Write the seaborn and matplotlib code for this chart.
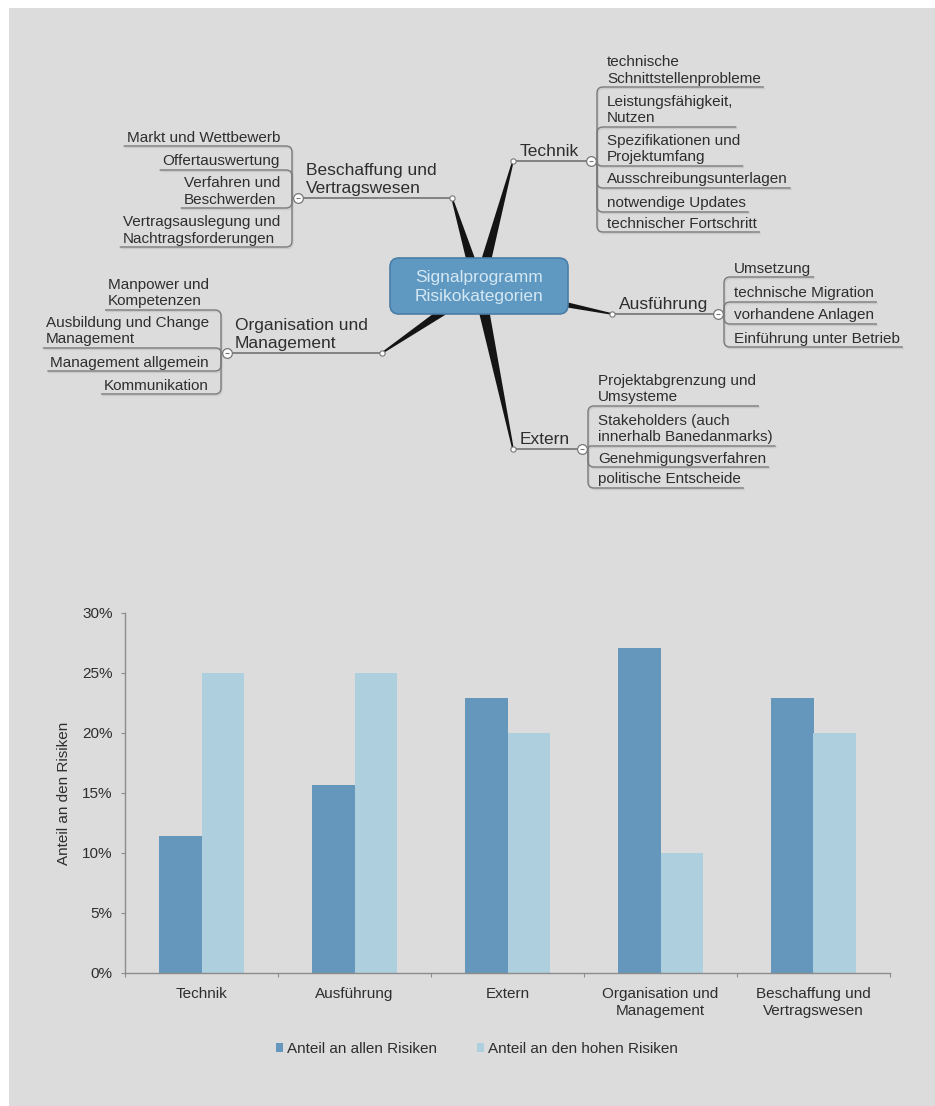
import math

import matplotlib
matplotlib.use("Agg")
import matplotlib.pyplot as plt
import pandas as pd
import seaborn as sns
from matplotlib.patches import FancyBboxPatch, PathPatch, Polygon, Rectangle
from matplotlib.path import Path
from matplotlib.ticker import FixedLocator, PercentFormatter

# --- Daten Balkendiagramm ---
kategorien = ["Technik", "Ausführung", "Extern",
              "Organisation und\nManagement", "Beschaffung und\nVertragswesen"]
anteil_alle = [11.4, 15.7, 22.9, 27.1, 22.9]
anteil_hoch = [25.0, 25.0, 20.0, 10.0, 20.0]
serien = ["Anteil an allen Risiken", "Anteil an den hohen Risiken"]
y_ticks = [0, 5, 10, 15, 20, 25, 30]
y_titel = "Anteil an den Risiken"

# --- Texte Mindmap ---
zentrum_text = "Signalprogramm\nRisikokategorien"
beschaffung_name = "Beschaffung und\nVertragswesen"
beschaffung_punkte = ["Markt und Wettbewerb", "Offertauswertung",
                      "Verfahren und\nBeschwerden",
                      "Vertragsauslegung und\nNachtragsforderungen"]
technik_name = "Technik"
technik_punkte = ["technische\nSchnittstellenprobleme",
                  "Leistungsfähigkeit,\nNutzen",
                  "Spezifikationen und\nProjektumfang",
                  "Ausschreibungsunterlagen", "notwendige Updates",
                  "technischer Fortschritt"]
organisation_name = "Organisation und\nManagement"
organisation_punkte = ["Manpower und\nKompetenzen",
                       "Ausbildung und Change\nManagement",
                       "Management allgemein", "Kommunikation"]
ausfuehrung_name = "Ausführung"
ausfuehrung_punkte = ["Umsetzung", "technische Migration",
                      "vorhandene Anlagen", "Einführung unter Betrieb"]
extern_name = "Extern"
extern_punkte = ["Projektabgrenzung und\nUmsysteme",
                 "Stakeholders (auch\ninnerhalb Banedanmarks)",
                 "Genehmigungsverfahren", "politische Entscheide"]

# Layout in Bildpunkten (Knoten, Klammerkreis, Seite, Hoehe der Unterstreichungen)
zweige = [
    (beschaffung_name, beschaffung_punkte, (452, 198), (298, 198), -1, [146, 170, 208, 247]),
    (technik_name, technik_punkte, (513, 161), (591, 161), 1, [87, 127, 166, 188, 212, 232]),
    (organisation_name, organisation_punkte, (382, 353), (227, 353), -1, [310, 348, 371, 394]),
    (ausfuehrung_name, ausfuehrung_punkte, (612, 314), (718, 314), 1, [277, 302, 324, 347]),
    (extern_name, extern_punkte, (513, 449), (582, 449), 1, [406, 446, 467, 488]),
]
mitte = (479, 287)

W, H = 935, 1106
GRAU = "#dcdcdc"
DUNKEL = "#6497bb"
HELL = "#aed0de"
TEXT = "#2e2e2e"
LINIE = "#7a7a7a"

sns.set_theme(style="white")
plt.rcParams["font.family"] = ["Liberation Sans", "DejaVu Sans"]

fig = plt.figure(figsize=(W / 100, H / 100), dpi=100, facecolor="white")
fig.add_artist(Rectangle((9 / W, 0), 1, (H - 8) / H, transform=fig.transFigure,
                         facecolor=GRAU, edgecolor="none", zorder=-10))

# ---------------- Mindmap ----------------
mm = fig.add_axes([0, 0, 1, 1])
mm.set_xlim(0, W)
mm.set_ylim(H, 0)
mm.set_facecolor("none")
mm.axis("off")
renderer = fig.canvas.get_renderer()


def keil(p_knoten, p_mitte, w_knoten=1.6, w_mitte=12):
    dx, dy = p_mitte[0] - p_knoten[0], p_mitte[1] - p_knoten[1]
    laenge = math.hypot(dx, dy)
    nx, ny = -dy / laenge, dx / laenge
    pts = [(p_knoten[0] + nx * w_knoten / 2, p_knoten[1] + ny * w_knoten / 2),
           (p_mitte[0] + nx * w_mitte / 2, p_mitte[1] + ny * w_mitte / 2),
           (p_mitte[0] - nx * w_mitte / 2, p_mitte[1] - ny * w_mitte / 2),
           (p_knoten[0] - nx * w_knoten / 2, p_knoten[1] - ny * w_knoten / 2)]
    mm.add_patch(Polygon(pts, closed=True, facecolor="#141414", edgecolor="none", zorder=2))


def verbinder(bx, ky, y, x_ende, richtung):
    r = min(6, abs(y - ky))
    s = 1 if y > ky else -1
    verts = [(bx, ky), (bx, y - s * r), (bx, y), (bx + richtung * r, y), (x_ende, y)]
    codes = [Path.MOVETO, Path.LINETO, Path.CURVE3, Path.CURVE3, Path.LINETO]
    # leichter Schatten
    sv = [(vx + 1, vy + 1.5) for vx, vy in verts]
    mm.add_patch(PathPatch(Path(sv, codes), facecolor="none", edgecolor="#c9c9c9", lw=1.0, zorder=2))
    mm.add_patch(PathPatch(Path(verts, codes), facecolor="none", edgecolor=LINIE, lw=1.0, zorder=3))


for name, punkte, knoten, kreis, richtung, linien_y in zweige:
    keil(knoten, mitte)
    mm.plot([knoten[0], kreis[0]], [knoten[1], kreis[1]], color="#6a6a6a", lw=1.1, zorder=3)
    if richtung < 0:
        mm.text(kreis[0] + 8, knoten[1] - 2, name, ha="left", va="bottom",
                fontsize=12.5, color=TEXT, linespacing=1.25, zorder=4)
    else:
        mm.text(knoten[0] + 7, knoten[1] - 2, name, ha="left", va="bottom",
                fontsize=12.5, color=TEXT, linespacing=1.25, zorder=4)
    bx = kreis[0] + richtung * 6
    for punkt, y in zip(punkte, linien_y):
        if richtung < 0:
            t = mm.text(bx - 12, y - 1.5, punkt, ha="right", va="bottom", multialignment="left",
                        fontsize=11, color=TEXT, linespacing=1.2, zorder=4)
        else:
            t = mm.text(bx + 10, y - 1.5, punkt, ha="left", va="bottom", multialignment="left",
                        fontsize=11, color=TEXT, linespacing=1.2, zorder=4)
        bb = t.get_window_extent(renderer).transformed(mm.transData.inverted())
        x_ende = min(bb.x0, bb.x1) - 3 if richtung < 0 else max(bb.x0, bb.x1) + 3
        verbinder(bx, kreis[1], y, x_ende, richtung)
    mm.plot(*knoten, marker="o", markersize=3.8, markerfacecolor="white",
            markeredgecolor="#777777", markeredgewidth=0.8, zorder=5)
    mm.plot(*kreis, marker="o", markersize=7, markerfacecolor="white",
            markeredgecolor="#777777", markeredgewidth=0.9, zorder=5)
    mm.plot(*kreis, marker="_", markersize=3.5, color="#777777", markeredgewidth=0.8, zorder=6)

mm.add_patch(FancyBboxPatch((390, 258), 178, 56, boxstyle="round,pad=0,rounding_size=9",
                            facecolor="#5f98c1", edgecolor="#4a7ea6", lw=1.2, zorder=6))
mm.text(479, 287, zentrum_text, ha="center", va="center", fontsize=12.5,
        color="#d4e8f4", linespacing=1.35, zorder=7)

# ---------------- Balkendiagramm ----------------
df = pd.DataFrame({
    "Kategorie": kategorien * 2,
    "Serie": [serien[0]] * len(kategorien) + [serien[1]] * len(kategorien),
    "Anteil": anteil_alle + anteil_hoch,
})

ax = fig.add_axes([125 / W, (H - 973) / H, 765 / W, 360 / H])
ax.set_facecolor("none")
sns.barplot(data=df, x="Kategorie", y="Anteil", hue="Serie", palette=[DUNKEL, HELL],
            width=0.56, saturation=1, errorbar=None, linewidth=0, ax=ax)

ax.set_xlim(-0.5, len(kategorien) - 0.5)
ax.set_ylim(0, 30)
ax.yaxis.set_major_locator(FixedLocator(y_ticks))
ax.yaxis.set_major_formatter(PercentFormatter(decimals=0))
ax.xaxis.set_minor_locator(FixedLocator([i - 0.5 for i in range(len(kategorien) + 1)]))
ax.set_xlabel("")
ax.set_ylabel(y_titel, fontsize=11, color=TEXT)
ax.yaxis.set_label_coords(-0.071, 0.5)

for side in ["top", "right"]:
    ax.spines[side].set_visible(False)
for side in ["left", "bottom"]:
    ax.spines[side].set_color("#8c8c8c")
    ax.spines[side].set_linewidth(1.0)

ax.tick_params(axis="y", which="major", direction="out", length=3, width=0.8,
               color="#8c8c8c", pad=6, labelsize=11, labelcolor=TEXT, left=True)
ax.tick_params(axis="x", which="major", length=0, pad=10, labelsize=11, labelcolor=TEXT)
ax.tick_params(axis="x", which="minor", direction="out", length=3, width=0.8,
               color="#8c8c8c", bottom=True)
for lab in ax.get_xticklabels():
    lab.set_linespacing(1.3)

handles, labels = ax.get_legend_handles_labels()
ax.legend_.remove()
for h in handles:
    h.set_linewidth(0)
fig.legend(handles, labels, loc="center", bbox_to_anchor=(477 / W, 1 - 1049 / H),
           ncol=2, frameon=False, handlelength=0.45, handleheight=0.45,
           handletextpad=0.3, columnspacing=2.6, fontsize=11, labelcolor=TEXT)

fig.savefig("out.png", dpi=100, facecolor="white")
